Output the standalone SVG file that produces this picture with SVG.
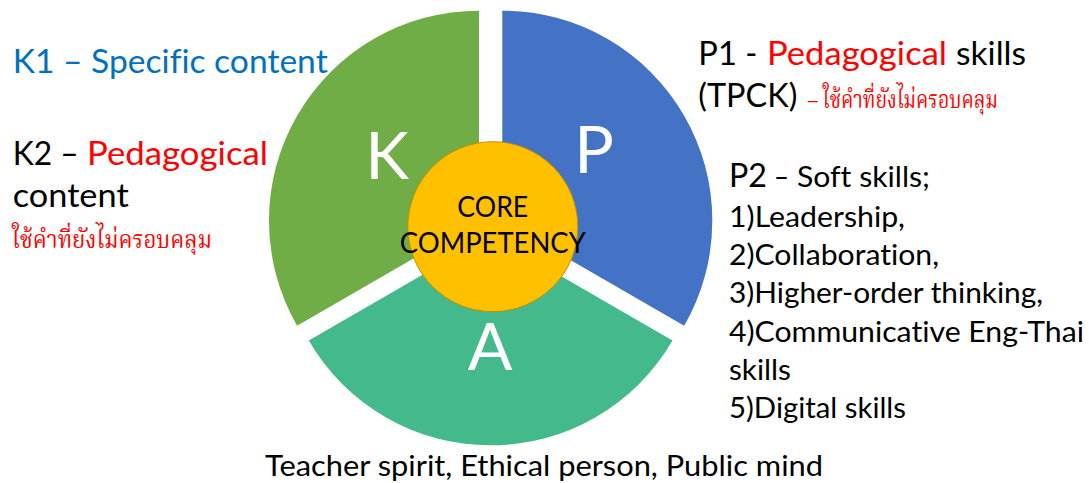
<svg xmlns="http://www.w3.org/2000/svg" width="1089" height="483" viewBox="0 0 1089 483">
  <style>
    text { font-variant-ligatures: none; font-feature-settings: "liga" 0, "clig" 0; }
    .t { font-family: Lato, "Liberation Sans", sans-serif; }
    .big { font-family: Lato, "Liberation Sans", sans-serif; font-size: 66px; fill: #ffffff; text-anchor: middle; }
    .l { font-size: 33px; }
    .m { font-size: 28px; fill: #000000; }
    .th { font-family: "Noto Serif Thai", "Noto Sans Thai", "Liberation Serif", serif; font-size: 24px; fill: #ff0000; }
    .red { fill: #ff0000; }
    .blk { fill: #000000; }
    .blue { fill: #0070c0; }
  </style>
  <rect width="1089" height="483" fill="#ffffff"/>

  <g id="seg-K">
    <path d="M479,220.7 L297.1,325.7 A210,210 0 0 1 479,10.7 Z" fill="#70ad47"/>
    <text class="big" x="387" y="179">K</text>
  </g>
  <g id="seg-P">
    <path d="M502.3,220.7 L502.3,10.7 A210,210 0 0 1 684.2,325.7 Z" fill="#4472c4"/>
    <text class="big" x="594" y="173.3">P</text>
  </g>
  <g id="seg-A">
    <path d="M490.65,235.4 L672.5,340.4 A210,210 0 0 1 308.8,340.4 Z" fill="#44ba8c"/>
    <text class="big" x="490" y="370">A</text>
  </g>
  <g id="core">
    <circle cx="492.8" cy="226.7" r="85" fill="#ffc000" stroke="#bf9000" stroke-width="1"/>
    <text class="t m" x="492.8" y="217.3" text-anchor="middle" textLength="71" lengthAdjust="spacingAndGlyphs">CORE</text>
    <text class="t m" x="492.8" y="252.7" text-anchor="middle" textLength="186" lengthAdjust="spacingAndGlyphs">COMPETENCY</text>
  </g>

  <g id="connectors"/>

  <g id="label-K">
    <text class="t l blue" x="12.7" y="73.3" textLength="315" lengthAdjust="spacingAndGlyphs">K1 – Specific content</text>
    <text class="t l blk" x="12.7" y="165" textLength="66" lengthAdjust="spacingAndGlyphs">K2 –</text>
    <text class="t l red" x="87" y="165" textLength="181" lengthAdjust="spacingAndGlyphs">Pedagogical</text>
    <text class="t l blk" x="12.7" y="207" textLength="116" lengthAdjust="spacingAndGlyphs">content</text>
    <text class="th" x="12" y="248" textLength="200" lengthAdjust="spacingAndGlyphs">ใช้คำที่ยังไม่ครอบคลุม</text>
  </g>

  <g id="label-P1">
    <text class="t l blk" x="698.3" y="65" textLength="59" lengthAdjust="spacingAndGlyphs">P1 -</text>
    <text class="t l red" x="767" y="65" textLength="180" lengthAdjust="spacingAndGlyphs">Pedagogical</text>
    <text class="t l blk" x="956" y="65" textLength="70" lengthAdjust="spacingAndGlyphs">skills</text>
    <text class="t l blk" x="698.3" y="107" textLength="99" lengthAdjust="spacingAndGlyphs">(TPCK)</text>
    <text class="th" x="808" y="108" textLength="190" lengthAdjust="spacingAndGlyphs">– ใช้คำที่ยังไม่ครอบคลุม</text>
  </g>

  <g id="label-P2">
    <text class="t l blk" x="729" y="187.3" textLength="38" lengthAdjust="spacingAndGlyphs">P2</text>
    <text class="t m" x="774" y="187.3" textLength="15" lengthAdjust="spacingAndGlyphs">–</text>
    <text class="t m" x="797" y="187.3" textLength="133" lengthAdjust="spacingAndGlyphs">Soft skills;</text>
    <text class="t m" x="729" y="226.7" textLength="176" lengthAdjust="spacingAndGlyphs">1)Leadership,</text>
    <text class="t m" x="729" y="265" textLength="210" lengthAdjust="spacingAndGlyphs">2)Collaboration,</text>
    <text class="t m" x="729" y="303.3" textLength="314" lengthAdjust="spacingAndGlyphs">3)Higher-order thinking,</text>
    <text class="t m" x="729" y="341.7" textLength="355" lengthAdjust="spacingAndGlyphs">4)Communicative Eng-Thai</text>
    <text class="t m" x="729" y="380" textLength="62" lengthAdjust="spacingAndGlyphs">skills</text>
    <text class="t m" x="729" y="418.3" textLength="177" lengthAdjust="spacingAndGlyphs">5)Digital skills</text>
  </g>

  <g id="label-A">
    <text class="t m" x="265" y="476" textLength="558" lengthAdjust="spacingAndGlyphs">Teacher spirit, Ethical person, Public mind</text>
  </g>
</svg>
